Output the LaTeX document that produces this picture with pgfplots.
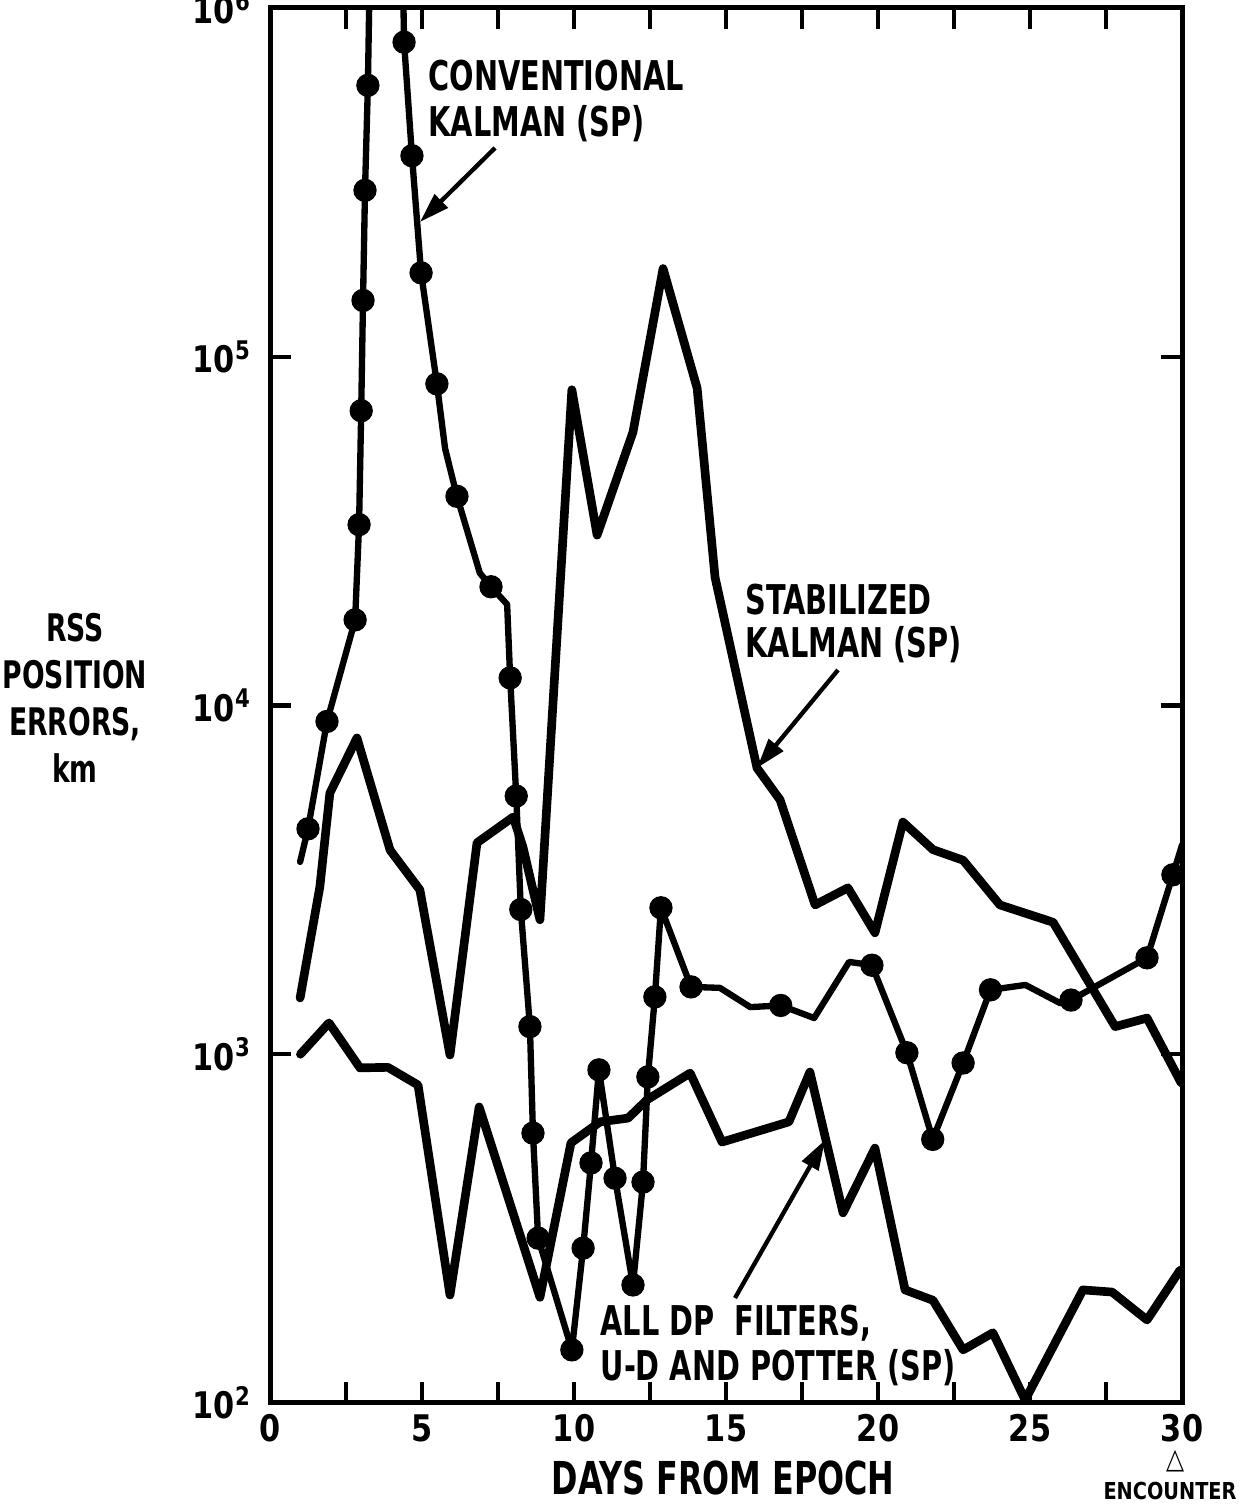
\documentclass[border=0pt]{standalone}
\usepackage{pgfplots}
\pgfplotsset{compat=1.18}
\usetikzlibrary{arrows.meta}
\usepackage{fontspec}
\setmainfont{DejaVu Sans Condensed}[FakeStretch=0.78]
\newfontfamily\tickfont{DejaVu Sans Condensed}[FakeStretch=0.92]
\begin{document}
\begin{tikzpicture}[x=1pt,y=1pt]
\useasboundingbox (-81,-30.3) rectangle (295.2,420.9);
\begin{axis}[
  at={(0,0)}, anchor=south west,
  scale only axis, width=273.6pt, height=418.5pt,
  xmin=0, xmax=30, ymode=log, ymin=100, ymax=1000000,
  axis line style={line width=1.5pt},
  xtick={0,2.5,...,30}, xticklabels={0,,5,,10,,15,,20,,25,,30},
  ytick={100,1000,10000,100000,1000000},
  yticklabels={10\textsuperscript{2},10\textsuperscript{3},10\textsuperscript{4},10\textsuperscript{5},10\textsuperscript{6}},
  yminorticks=false,
  tick align=inside,
  major tick length=6.3pt,
  every tick/.style={line width=1.3pt, black},
  ticklabel style={font=\tickfont\bfseries\fontsize{11}{11}\selectfont},
  yticklabel style={xshift=-2pt},
  xticklabel style={yshift=0pt},
  clip=true,
]
% Conventional Kalman (SP) - line
\addplot[black, line width=1.9pt, line join=round, line cap=round] coordinates {
(0.99,3560) (1.25,4430) (1.875,9000) (2.8,17600) (2.93,33000) (3.0,70000) (3.06,145000)
(3.125,300000) (3.22,600000) (3.35,3000000) (4.3,3000000) (4.41,798000) (4.67,377000)
(4.97,174000) (5.49,83600) (5.76,54500) (6.15,39800) (6.9,24000) (7.27,21900) (7.8,19500)
(7.9,12000) (8.1,5500) (8.25,2600) (8.55,1200) (8.65,594) (8.82,297) (9.93,142)
(10.3,278) (10.56,488) (10.82,902) (11.35,441) (11.94,218) (12.27,430) (12.43,861)
(12.66,1460) (12.86,2630) (13.85,1560) (14.8,1550) (15.8,1365) (16.8,1380) (17.9,1270)
(19.05,1840) (19.8,1800) (20.95,1010) (21.8,570) (22.8,944) (23.7,1530) (24.85,1580)
(26.0,1400) (26.35,1430) (28.85,1890) (29.7,3270) (30,3980)
};
% Conventional Kalman (SP) - dots
\addplot[only marks, mark=*, mark size=3.3pt, black] coordinates {
(1.25,4430) (1.875,9000) (2.8,17600) (2.93,33000) (3.0,70000) (3.06,145000)
(3.125,300000) (3.22,600000) (4.41,798000) (4.67,377000) (4.97,174000) (5.49,83600)
(6.15,39800) (7.27,21900) (7.9,12000) (8.1,5500) (8.25,2600) (8.55,1200) (8.65,594)
(8.82,297) (9.93,142) (10.3,278) (10.56,488) (10.82,902) (11.35,441) (11.94,218)
(12.27,430) (12.43,861) (12.66,1460) (12.86,2630) (13.85,1560) (16.8,1380) (19.8,1800)
(20.95,1010) (21.8,570) (22.8,944) (23.7,1530) (26.35,1430) (28.85,1890) (29.7,3270)
};
% Stabilized Kalman (SP)
\addplot[black, line width=2.6pt, line join=round, line cap=round] coordinates {
(0.99,1450) (1.64,3020) (1.97,5610) (2.86,8070) (3.95,3850) (4.93,2960) (5.92,995)
(6.81,4040) (8.0,4790) (8.32,3930) (8.88,2430) (9.93,80400) (10.76,30800) (11.94,60800)
(12.93,179000) (14.05,81300) (14.64,23300) (16.02,6620) (16.78,5360) (17.93,2680)
(19.01,3000) (19.9,2230) (20.82,4630) (21.81,3860) (22.8,3600) (24.01,2680)
(25.76,2390) (27.8,1200) (28.85,1270) (29.97,828)
};
% All DP filters, U-D and Potter (SP)
\addplot[black, line width=2.6pt, line join=round, line cap=round] coordinates {
(1.0,1000) (1.94,1230) (2.96,914) (3.88,917) (4.87,816) (5.92,204) (6.88,706)
(8.88,201) (9.9,557) (10.86,640) (11.78,656) (12.4,740) (13.82,883) (14.87,560)
(17.07,640) (17.76,889) (18.85,351) (19.9,538) (20.89,211) (21.81,197) (22.8,142)
(23.78,159) (24.84,102) (26.74,211) (27.7,208) (28.85,173) (29.93,240)
};
\end{axis}
% annotations
\node[anchor=north west, inner sep=0pt, align=left, font=\bfseries\fontsize{12.3}{13.8}\selectfont] at (47.4,403) {CONVENTIONAL\\KALMAN (SP)};
\draw[line width=1.3pt, -{Triangle[length=9pt,width=5.5pt]}] (67.5,376.5) -- (45,354.3);
\node[anchor=north west, inner sep=0pt, align=left, font=\bfseries\fontsize{12.3}{13}\selectfont] at (142.5,246) {STABILIZED\\KALMAN (SP)};
\draw[line width=1.3pt, -{Triangle[length=9pt,width=5.5pt]}] (170.4,219.9) -- (146.1,190.5);
\node[anchor=north west, inner sep=0pt, align=left, font=\bfseries\fontsize{12.3}{13.6}\selectfont] at (99,29.6) {ALL DP\ \ FILTERS,\\U-D AND POTTER (SP)};
\draw[line width=1.3pt, -{Triangle[length=9pt,width=5.5pt]}] (139.5,31.5) -- (166.5,78.9);
% axis labels
\node[anchor=north, inner sep=0pt, align=center, font=\bfseries\fontsize{11.4}{14.1}\selectfont] at (-58.5,237) {RSS\\POSITION\\ERRORS,\\km};
\node[inner sep=0pt, font=\bfseries\fontsize{13.6}{15}\selectfont] at (135.9,-22.5) {DAYS FROM EPOCH};
\node[inner sep=0pt, font=\tickfont\bfseries\fontsize{8.5}{8.5}\selectfont] at (271.5,-17.5) {△};
\node[inner sep=0pt, font=\tickfont\bfseries\fontsize{7}{7}\selectfont] at (270,-26.4) {ENCOUNTER};
\end{tikzpicture}
\end{document}
